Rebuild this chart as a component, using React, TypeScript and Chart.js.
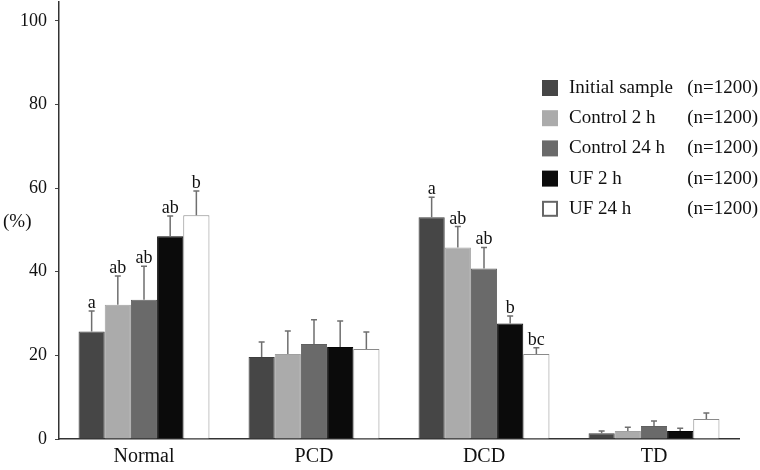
import React, { useEffect, useRef } from "react";
import { Chart, registerables } from "chart.js";

Chart.register(...registerables);

const FONT = "'Liberation Serif', 'Times New Roman', serif";

const categories = ["Normal", "PCD", "DCD", "TD"];
const seriesNames = ["Initial sample", "Control 2 h", "Control 24 h", "UF 2 h", "UF 24 h"];
const seriesN = ["(n=1200)", "(n=1200)", "(n=1200)", "(n=1200)", "(n=1200)"];

const initialSample = [25.7, 19.6, 53.0, 1.4];
const control2h = [32.1, 20.3, 45.8, 1.9];
const control24h = [33.3, 22.7, 40.8, 3.1];
const uf2h = [48.5, 22.0, 27.6, 1.9];
const uf24h = [53.5, 21.5, 20.3, 4.8];

const initialSampleSD = [4.9, 3.6, 4.8, 0.5];
const control2hSD = [6.9, 5.5, 5.0, 0.9];
const control24hSD = [8.0, 5.8, 5.0, 1.2];
const uf2hSD = [4.8, 6.2, 1.8, 0.7];
const uf24hSD = [5.8, 4.1, 1.5, 1.4];

const initialSampleLetters = ["a", "", "a", ""];
const control2hLetters = ["ab", "", "ab", ""];
const control24hLetters = ["ab", "", "ab", ""];
const uf2hLetters = ["ab", "", "b", ""];
const uf24hLetters = ["b", "", "bc", ""];

const yTickValues = [0, 20, 40, 60, 80, 100];

const seriesValues = [initialSample, control2h, control24h, uf2h, uf24h];
const seriesSD = [initialSampleSD, control2hSD, control24hSD, uf2hSD, uf24hSD];
const seriesLetters = [initialSampleLetters, control2hLetters, control24hLetters, uf2hLetters, uf24hLetters];
const fillColors = ["#464646", "#ababab", "#6a6a6a", "#0b0b0b", "#ffffff"];
const borderColors = ["#3e3e3e", "#a0a0a0", "#606060", "#050505", "#8a8a8a"];

const overlayPlugin = {
  id: "overlay",
  afterDatasetsDraw(chart: any) {
    const ctx = chart.ctx;
    const yScale = chart.scales.y;
    ctx.save();
    chart.data.datasets.forEach((ds: any, di: number) => {
      const meta = chart.getDatasetMeta(di);
      meta.data.forEach((el: any, i: number) => {
        const v = seriesValues[di][i];
        const sd = seriesSD[di][i];
        const yTop = yScale.getPixelForValue(v + sd);
        const yBar = yScale.getPixelForValue(v);
        ctx.strokeStyle = "#6f6f6f";
        ctx.lineWidth = 1.5;
        ctx.beginPath();
        ctx.moveTo(el.x, yBar);
        ctx.lineTo(el.x, yTop);
        ctx.moveTo(el.x - 3, yTop);
        ctx.lineTo(el.x + 3, yTop);
        ctx.stroke();
        const letter = seriesLetters[di][i];
        if (letter) {
          ctx.fillStyle = "#111";
          ctx.font = `18px ${FONT}`;
          ctx.textAlign = "center";
          ctx.textBaseline = "alphabetic";
          ctx.fillText(letter, el.x, yTop - 3);
        }
      });
    });
    ctx.restore();
  },
  afterDraw(chart: any) {
    const ctx = chart.ctx;
    ctx.save();
    ctx.fillStyle = "#111";
    ctx.font = `19px ${FONT}`;
    ctx.textAlign = "left";
    ctx.textBaseline = "middle";
    ctx.fillText("(%)", 3, 222);
    const rowStart = 88;
    const rowStep = 30.2;
    seriesNames.forEach((name, i) => {
      const cy = rowStart + i * rowStep;
      ctx.fillStyle = fillColors[i];
      ctx.fillRect(542, cy - 8, 16, 16);
      if (i === 4) {
        ctx.strokeStyle = "#666";
        ctx.lineWidth = 2;
        ctx.strokeRect(543, cy - 7, 14, 14);
      }
      ctx.fillStyle = "#111";
      ctx.font = `19px ${FONT}`;
      ctx.textBaseline = "middle";
      ctx.textAlign = "left";
      ctx.fillText(name, 569, cy);
      ctx.textAlign = "right";
      ctx.fillText(seriesN[i], 758, cy);
    });
    ctx.restore();
  },
};

export default function App() {
  const canvasRef = useRef<HTMLCanvasElement | null>(null);

  useEffect(() => {
    if (!canvasRef.current) return;
    const chart = new Chart(canvasRef.current, {
      type: "bar",
      data: {
        labels: categories,
        datasets: seriesNames.map((name, i) => ({
          label: name,
          data: seriesValues[i],
          backgroundColor: fillColors[i],
          borderColor: borderColors[i],
          borderWidth: 1,
          barPercentage: 1,
          categoryPercentage: 0.77,
        })),
      },
      options: {
        animation: false,
        responsive: false,
        maintainAspectRatio: false,
        layout: { padding: { top: 2, right: 21, left: 0, bottom: 0 } },
        plugins: {
          legend: { display: false },
          tooltip: { enabled: false },
          title: { display: false },
        },
        scales: {
          x: {
            grid: { display: false, drawTicks: false },
            border: { display: true, color: "#333", width: 1.5 },
            ticks: {
              color: "#111",
              font: { family: FONT, size: 20 },
              padding: 6,
              maxRotation: 0,
            },
            afterFit: (scale: any) => {
              scale.height = 31;
              scale.paddingLeft = 0;
              scale.paddingRight = 0;
            },
          },
          y: {
            min: 0,
            max: 104.5,
            grid: {
              drawOnChartArea: false,
              drawTicks: true,
              tickLength: 4,
              tickColor: "#444",
            },
            border: { display: true, color: "#333", width: 1.5 },
            ticks: {
              color: "#111",
              font: { family: FONT, size: 18 },
              padding: 8,
            },
            afterBuildTicks: (scale: any) => {
              scale.ticks = yTickValues.map((v) => ({ value: v }));
            },
            afterFit: (scale: any) => {
              scale.width = 59;
              scale.paddingTop = 0;
              scale.paddingBottom = 0;
            },
          },
        },
      },
      plugins: [overlayPlugin],
    });
    return () => chart.destroy();
  }, []);

  return (
    <div style={{ position: "absolute", left: 0, top: 0, width: 760, height: 470, background: "#fff" }}>
      <canvas ref={canvasRef} width={760} height={470} style={{ width: 760, height: 470 }} />
    </div>
  );
}
